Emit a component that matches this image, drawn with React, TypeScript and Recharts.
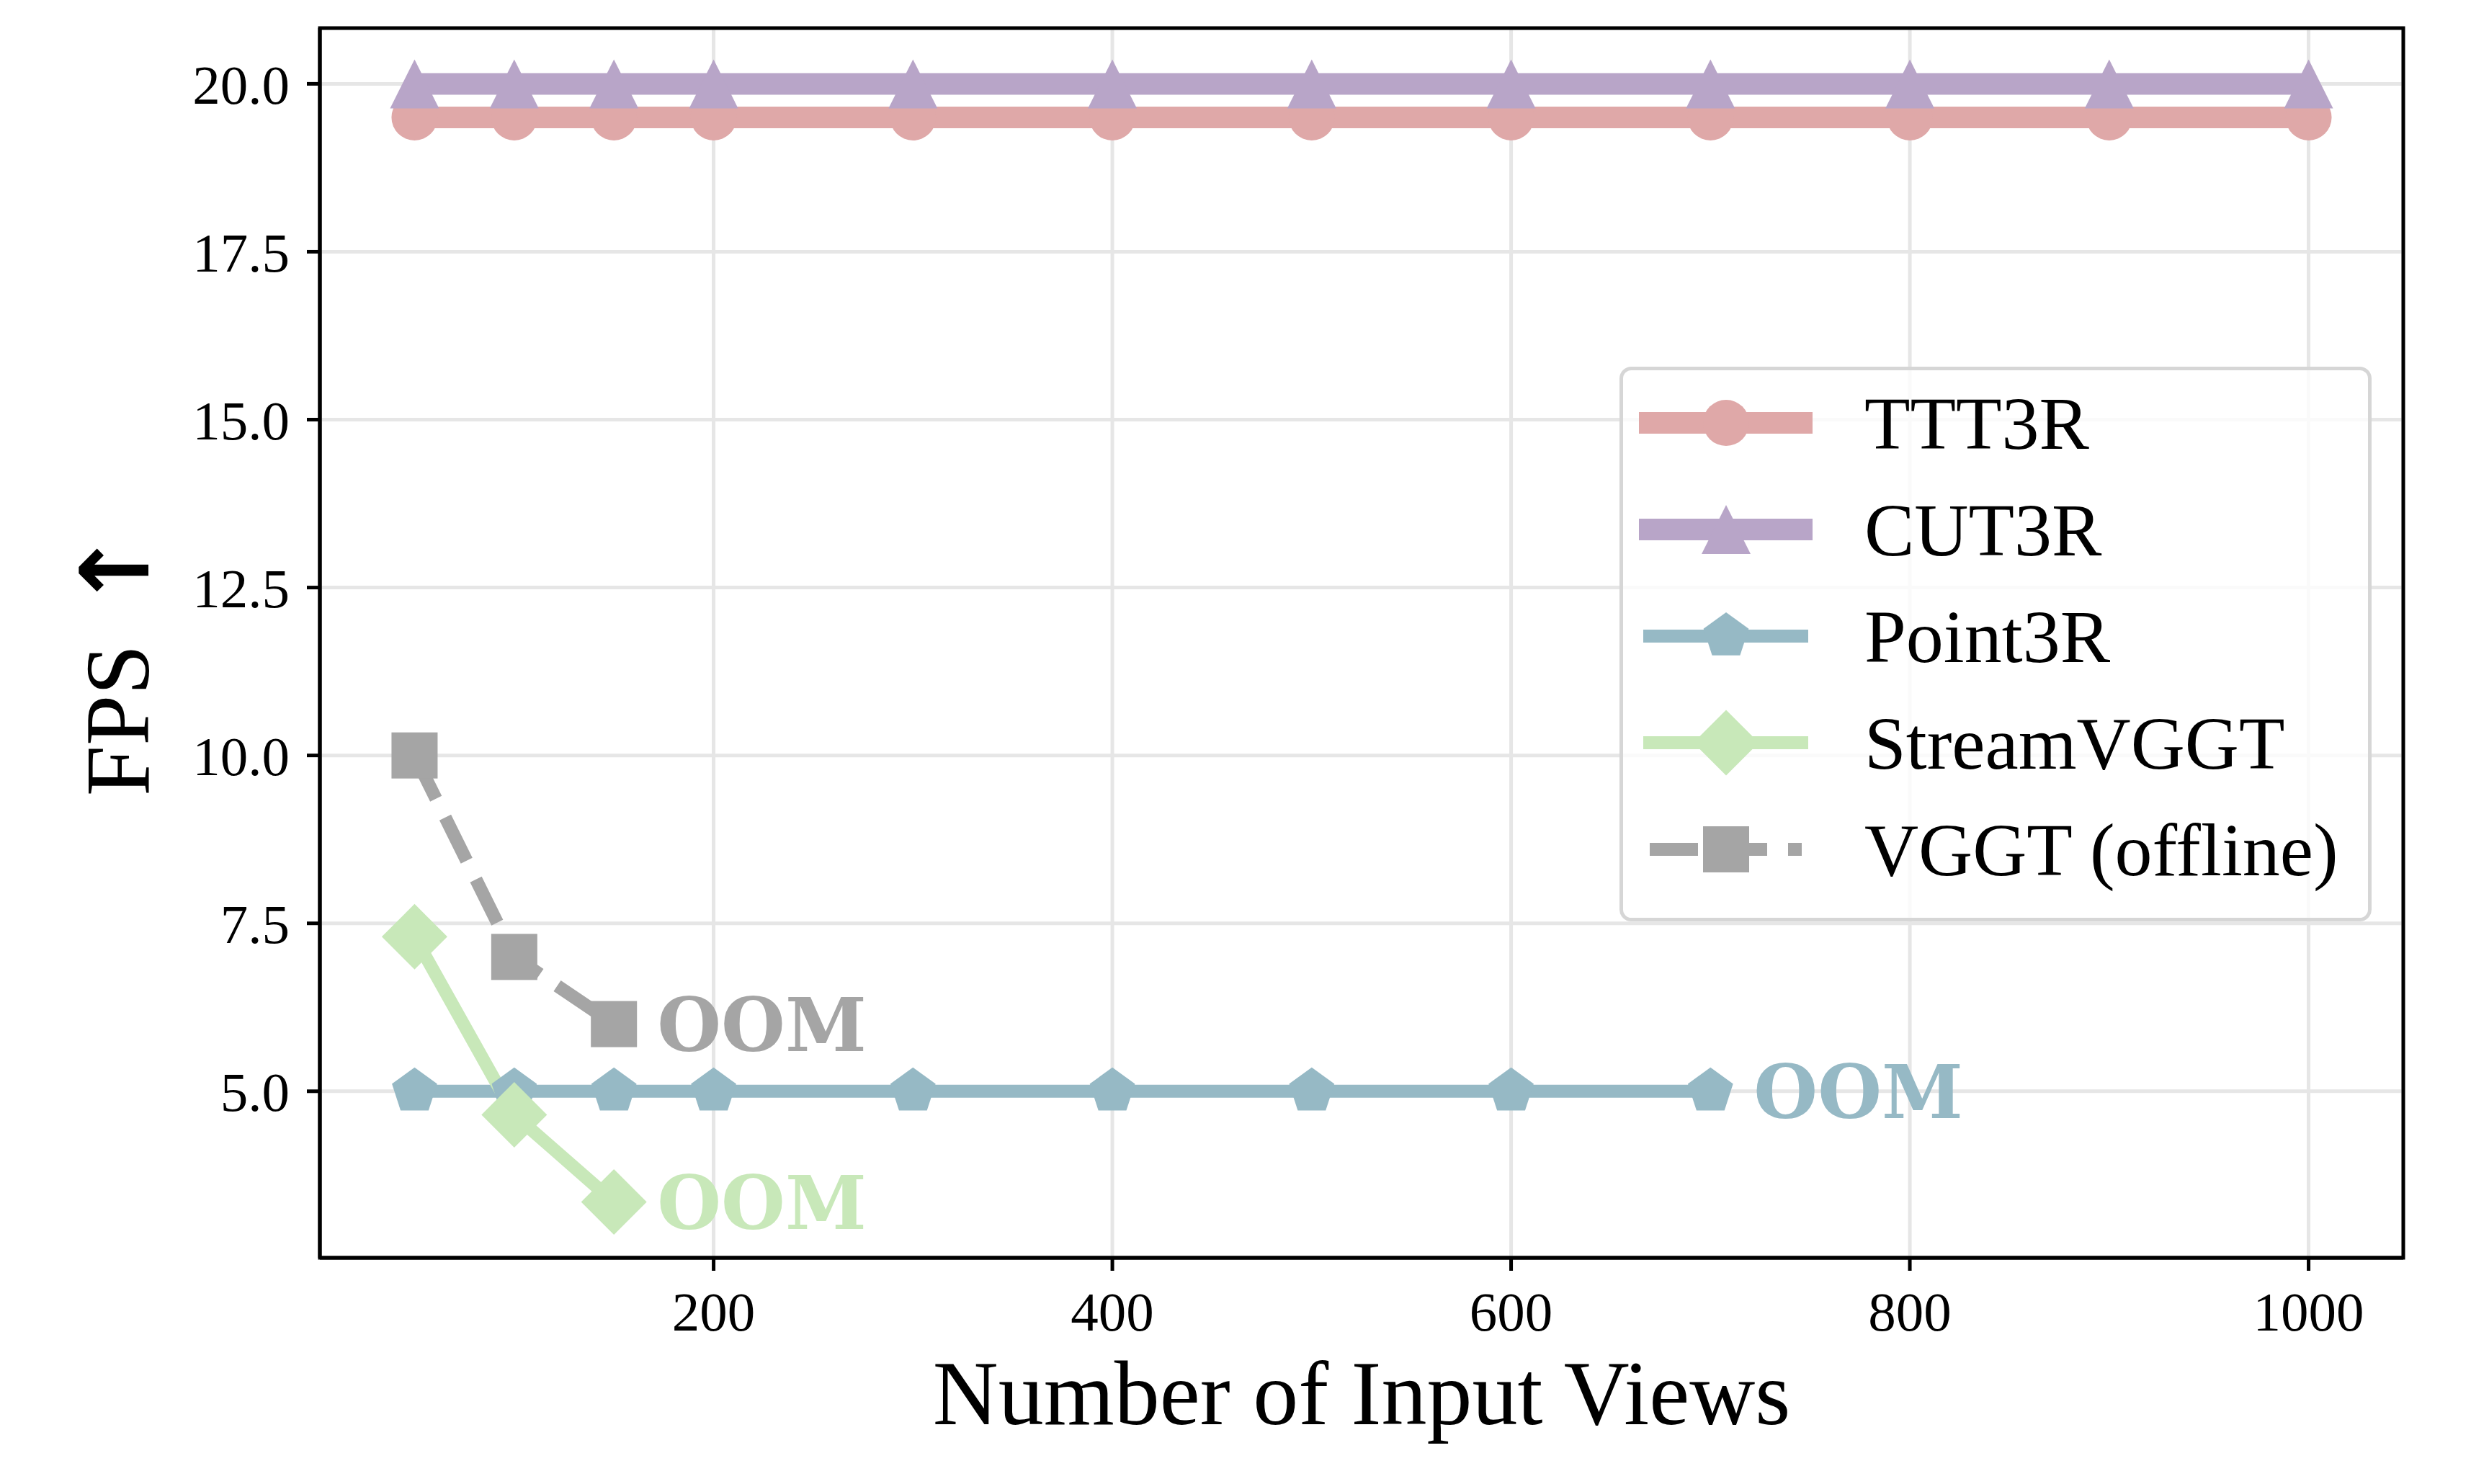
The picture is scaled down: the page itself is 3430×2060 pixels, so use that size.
import React from 'react';
import { LineChart, Line, XAxis, YAxis, CartesianGrid, Legend, ReferenceArea, LabelList } from 'recharts';

// values
const viewsFull = [50, 100, 150, 200, 300, 400, 500, 600, 700, 800, 900, 1000];
const ttt3rFps = [19.5, 19.5, 19.5, 19.5, 19.5, 19.5, 19.5, 19.5, 19.5, 19.5, 19.5, 19.5];
const cut3rFps = [20, 20, 20, 20, 20, 20, 20, 20, 20, 20, 20, 20];
const point3rViews = [50, 100, 150, 200, 300, 400, 500, 600, 700];
const point3rFps = [5, 5, 5, 5, 5, 5, 5, 5, 5];
const streamVggtViews = [50, 100, 150];
const streamVggtFps = [7.3, 4.65, 3.35];
const vggtViews = [50, 100, 150];
const vggtFps = [10, 7, 6];

const xTicks = [200, 400, 600, 800, 1000];
const yTicks = [5, 7.5, 10, 12.5, 15, 17.5, 20];
const xDomain: [number, number] = [2.5, 1047.5];
const yDomain: [number, number] = [2.52, 20.83];

const SERIF = '"Liberation Serif", "Times New Roman", serif';

type Marker = 'circle' | 'triangle' | 'pentagon' | 'diamond' | 'square';

const toRows = (xs: number[], ys: number[]) => xs.map((x, i) => ({ x, fps: ys[i] }));

const series = [
  { name: 'TTT3R', data: toRows(viewsFull, ttt3rFps), color: '#DFA8A8', width: 30, marker: 'circle' as Marker, dashed: false, oom: false },
  { name: 'CUT3R', data: toRows(viewsFull, cut3rFps), color: '#B8A5C8', width: 30, marker: 'triangle' as Marker, dashed: false, oom: false },
  { name: 'Point3R', data: toRows(point3rViews, point3rFps), color: '#96B9C5', width: 18, marker: 'pentagon' as Marker, dashed: false, oom: true },
  { name: 'StreamVGGT', data: toRows(streamVggtViews, streamVggtFps), color: '#C8E8B9', width: 18, marker: 'diamond' as Marker, dashed: false, oom: true },
  { name: 'VGGT (offline)', data: toRows(vggtViews, vggtFps), color: '#A5A5A5', width: 18, marker: 'square' as Marker, dashed: true, oom: true },
];

function MarkerShape({ kind, cx, cy, color }: { kind: Marker; cx: number; cy: number; color: string }) {
  if (kind === 'circle') return <circle cx={cx} cy={cy} r={32} fill={color} />;
  if (kind === 'square') return <rect x={cx - 32} y={cy - 32} width={64} height={64} fill={color} />;
  if (kind === 'triangle') {
    const s = 34;
    return <polygon points={`${cx},${cy - s} ${cx - s},${cy + s} ${cx + s},${cy + s}`} fill={color} />;
  }
  if (kind === 'diamond') {
    const d = 45.5;
    return <polygon points={`${cx},${cy - d} ${cx + d},${cy} ${cx},${cy + d} ${cx - d},${cy}`} fill={color} />;
  }
  const r = 33;
  const pts = [0, 1, 2, 3, 4]
    .map((k) => {
      const a = ((-90 + 72 * k) * Math.PI) / 180;
      return `${cx + r * Math.cos(a)},${cy + r * Math.sin(a)}`;
    })
    .join(' ');
  return <polygon points={pts} fill={color} />;
}

const makeDot = (kind: Marker, color: string) => (props: any) => {
  const { cx, cy, index } = props;
  if (cx == null || cy == null) return <g key={`d-${index}`} />;
  return (
    <g key={`d-${index}`}>
      <MarkerShape kind={kind} cx={cx} cy={cy} color={color} />
    </g>
  );
};

const makeOom = (color: string, lastIndex: number) => (props: any) => {
  const { x, y, index } = props;
  if (index !== lastIndex) return null;
  return (
    <text
      x={x + 60}
      y={y + 37}
      fill={color}
      fontFamily='"DejaVu Serif", serif'
      fontWeight="bold"
      fontSize={102}
    >
      OOM
    </text>
  );
};

const renderLegend = () => {
  const rowY = [78, 226, 374, 522, 670];
  return (
    <svg width={1044} height={770} style={{ display: 'block' }}>
      <rect x={2.5} y={2.5} width={1039} height={765} rx={14} fill="#ffffff" fillOpacity={0.8} stroke="#d6d6d6" strokeWidth={5} />
      {series.map((s, i) => (
        <g key={s.name}>
          <line
            x1={42}
            x2={253}
            y1={rowY[i]}
            y2={rowY[i]}
            stroke={s.color}
            strokeWidth={s.width}
            strokeLinecap={s.dashed ? 'butt' : 'square'}
            strokeDasharray={s.dashed ? '67 29' : undefined}
          />
          <MarkerShape kind={s.marker} cx={148} cy={rowY[i]} color={s.color} />
          <text x={340} y={rowY[i] + 36} fontFamily={SERIF} fontSize={104} fill="#000">
            {s.name}
          </text>
        </g>
      ))}
    </svg>
  );
};

const XTitle = (props: any) => {
  const vb = props.viewBox || { x: 444, y: 1746, width: 2892, height: 314 };
  return (
    <text x={vb.x + vb.width / 2} y={vb.y + 231} textAnchor="middle" fontFamily={SERIF} fontSize={126} fill="#000">
      Number of Input Views
    </text>
  );
};

const YTitle = (props: any) => {
  const vb = props.viewBox || { x: 0, y: 39, width: 444, height: 1707 };
  const cx = 206;
  const cy = vb.y + vb.height / 2 + 28;
  return (
    <text x={cx} y={cy} transform={`rotate(-90, ${cx}, ${cy})`} textAnchor="middle" fontFamily={SERIF} fontSize={126} fill="#000">
      FPS
      <tspan dx={48} fontFamily='"DejaVu Sans", sans-serif' fontWeight="bold" fontSize={132}>
        ↑
      </tspan>
    </text>
  );
};

export default function App() {
  return (
    <div style={{ position: 'fixed', left: 0, top: 0, width: 3430, height: 2060, background: '#ffffff' }}>
      <LineChart width={3430} height={2060} margin={{ top: 39, right: 94, bottom: 0, left: 0 }}>
        <CartesianGrid stroke="#e6e6e6" strokeWidth={5} />
        <XAxis
          dataKey="x"
          type="number"
          domain={xDomain}
          ticks={xTicks}
          allowDataOverflow
          height={314}
          axisLine={{ stroke: '#000', strokeWidth: 5 }}
          tickLine={{ stroke: '#000', strokeWidth: 5 }}
          tickSize={18}
          tickMargin={28}
          tick={{ fill: '#000', fontSize: 77, fontFamily: SERIF }}
          label={<XTitle />}
        />
        <YAxis
          type="number"
          domain={yDomain}
          ticks={yTicks}
          allowDataOverflow
          width={444}
          axisLine={{ stroke: '#000', strokeWidth: 5 }}
          tickLine={{ stroke: '#000', strokeWidth: 5 }}
          tickSize={18}
          tickMargin={24}
          tickFormatter={(v: number) => v.toFixed(1)}
          tick={{ fill: '#000', fontSize: 77, fontFamily: SERIF }}
          label={<YTitle />}
        />
        <ReferenceArea
          x1={xDomain[0]}
          x2={xDomain[1]}
          y1={yDomain[0]}
          y2={yDomain[1]}
          fill="none"
          stroke="#000"
          strokeWidth={5}
          ifOverflow="visible"
        />
        {series.map((s) => (
          <Line
            key={s.name}
            data={s.data}
            dataKey="fps"
            name={s.name}
            type="linear"
            stroke={s.color}
            strokeWidth={s.width}
            strokeLinejoin="round"
            strokeDasharray={s.dashed ? '67 29' : undefined}
            dot={makeDot(s.marker, s.color)}
            activeDot={false}
            isAnimationActive={false}
          >
            {s.oom && <LabelList dataKey="fps" content={makeOom(s.color, s.data.length - 1)} />}
          </Line>
        ))}
        <Legend
          layout="vertical"
          align="center"
          verticalAlign="middle"
          wrapperStyle={{ left: 2248, top: 509, width: 1044, height: 770 }}
          content={renderLegend}
        />
      </LineChart>
    </div>
  );
}
